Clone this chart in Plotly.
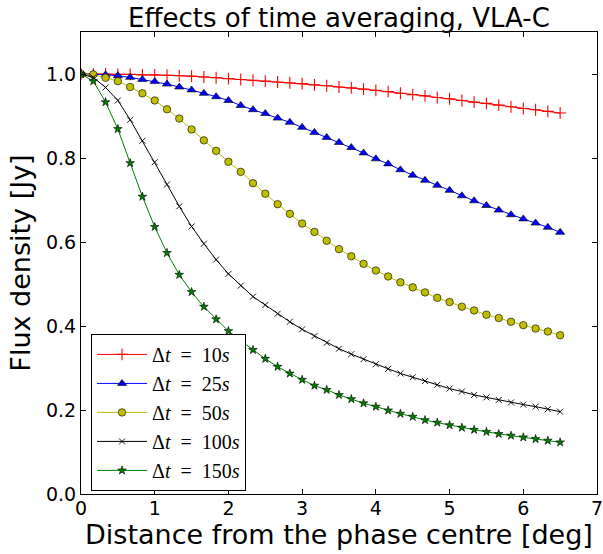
import plotly.graph_objects as go

# distance from phase centre [deg] (40 samples, 0 .. 6.5)
distance = [0.000, 0.167, 0.333, 0.500, 0.667, 0.833, 1.000, 1.167, 1.333, 1.500,
            1.667, 1.833, 2.000, 2.167, 2.333, 2.500, 2.667, 2.833, 3.000, 3.167,
            3.333, 3.500, 3.667, 3.833, 4.000, 4.167, 4.333, 4.500, 4.667, 4.833,
            5.000, 5.167, 5.333, 5.500, 5.667, 5.833, 6.000, 6.167, 6.333, 6.500]

flux_10s = [1.000, 1.000, 1.000, 0.999, 0.999, 0.998, 0.998, 0.997, 0.996, 0.995,
            0.993, 0.991, 0.989, 0.987, 0.985, 0.983, 0.981, 0.979, 0.977, 0.974,
            0.972, 0.969, 0.967, 0.964, 0.961, 0.958, 0.954, 0.951, 0.948, 0.944,
            0.941, 0.937, 0.933, 0.930, 0.926, 0.922, 0.918, 0.915, 0.911, 0.907]

flux_25s = [1.000, 1.000, 0.998, 0.996, 0.992, 0.987, 0.982, 0.976, 0.969, 0.962,
            0.954, 0.946, 0.937, 0.925, 0.915, 0.906, 0.895, 0.885, 0.873, 0.861,
            0.849, 0.837, 0.825, 0.812, 0.798, 0.786, 0.772, 0.759, 0.747, 0.735,
            0.723, 0.710, 0.698, 0.687, 0.676, 0.665, 0.655, 0.645, 0.635, 0.623]

flux_50s = [1.000, 0.999, 0.991, 0.983, 0.969, 0.954, 0.937, 0.916, 0.894, 0.868,
            0.842, 0.817, 0.791, 0.767, 0.740, 0.715, 0.690, 0.667, 0.644, 0.624,
            0.603, 0.583, 0.566, 0.548, 0.532, 0.518, 0.504, 0.492, 0.480, 0.467,
            0.457, 0.446, 0.437, 0.427, 0.419, 0.410, 0.402, 0.394, 0.387, 0.378]

flux_100s = [1.000, 0.992, 0.968, 0.937, 0.891, 0.841, 0.790, 0.737, 0.685, 0.637,
             0.596, 0.558, 0.524, 0.496, 0.470, 0.450, 0.429, 0.410, 0.392, 0.376,
             0.360, 0.346, 0.333, 0.321, 0.309, 0.298, 0.287, 0.278, 0.269, 0.260,
             0.251, 0.244, 0.236, 0.230, 0.224, 0.218, 0.213, 0.208, 0.202, 0.196]

flux_150s = [1.000, 0.983, 0.933, 0.869, 0.788, 0.708, 0.636, 0.574, 0.522, 0.481,
             0.446, 0.416, 0.388, 0.365, 0.343, 0.322, 0.303, 0.287, 0.272, 0.258,
             0.248, 0.236, 0.226, 0.216, 0.208, 0.199, 0.191, 0.184, 0.176, 0.170,
             0.164, 0.158, 0.153, 0.148, 0.143, 0.139, 0.135, 0.131, 0.127, 0.123]

series_names = ["10", "25", "50", "100", "150"]
x_ticks = [0, 1, 2, 3, 4, 5, 6, 7]
y_ticks = [0.0, 0.2, 0.4, 0.6, 0.8, 1.0]

styles = [
    dict(color="#ff0000", symbol="cross-thin", size=8.5, fill="#ff0000", edge="#ff0000", ew=1.1),
    dict(color="#0000ff", symbol="triangle-up", size=8, fill="#0000ff", edge="#000000", ew=0.6),
    dict(color="#bfbf00", symbol="circle", size=7.5, fill="#bfbf00", edge="#000000", ew=0.6),
    dict(color="#000000", symbol="x-thin", size=6, fill="#000000", edge="#000000", ew=0.9),
    dict(color="#008000", symbol="star", size=6.5, fill="#008000", edge="#000000", ew=0.6),
]
all_flux = [flux_10s, flux_25s, flux_50s, flux_100s, flux_150s]

NB = "\u00a0"
fig = go.Figure()
for name, ys, st in zip(series_names, all_flux, styles):
    fig.add_trace(go.Scatter(
        x=distance, y=ys, mode="lines+markers",
        name="Δ<i>t</i>" + NB * 2 + "=" + NB * 2 + name + "<i>s</i>",
        line=dict(color=st["color"], width=1),
        marker=dict(symbol=st["symbol"], size=st["size"], color=st["fill"],
                    line=dict(color=st["edge"], width=st["ew"])),
    ))

axis_font = dict(family="DejaVu Sans", size=19, color="black")
fig.update_layout(
    width=603, height=554,
    margin=dict(l=81, r=6, t=32, b=60, autoexpand=False),
    paper_bgcolor="white", plot_bgcolor="white",
    title=dict(text="Effects of time averaging, VLA-C", x=0.5, xref="paper",
               y=0.968, yref="container", yanchor="middle",
               font=dict(family="DejaVu Sans", size=26, color="black")),
    xaxis=dict(range=[0, 7], tickvals=x_ticks, ticktext=[str(v) for v in x_ticks],
               showline=True, linecolor="black", linewidth=1, mirror="ticks",
               ticks="inside", ticklen=5, tickcolor="black", showgrid=False,
               zeroline=False, tickfont=axis_font, ticklabelstandoff=-3,
               ticklabeloverflow="allow", automargin=False,
               title=dict(text="Distance from the phase centre [deg]",
                          font=dict(family="DejaVu Sans", size=27, color="black"),
                          standoff=0)),
    yaxis=dict(range=[0, 1.1], tickvals=y_ticks, ticktext=[f"{v:.1f}" for v in y_ticks],
               showline=True, linecolor="black", linewidth=1, mirror="ticks",
               ticks="inside", ticklen=5, tickcolor="black", showgrid=False,
               zeroline=False, tickfont=axis_font, ticklabeloverflow="allow",
               automargin=False,
               title=dict(text="Flux density [Jy]",
                          font=dict(family="DejaVu Sans", size=27, color="black"),
                          standoff=7)),
    legend=dict(x=0.0194, y=0.3465, xanchor="left", yanchor="top",
                bgcolor="white", bordercolor="black", borderwidth=1,
                font=dict(family="Liberation Serif", size=20, color="black"),
                entrywidth=133, itemwidth=50),
    showlegend=True,
)

fig.write_html("out.html")
